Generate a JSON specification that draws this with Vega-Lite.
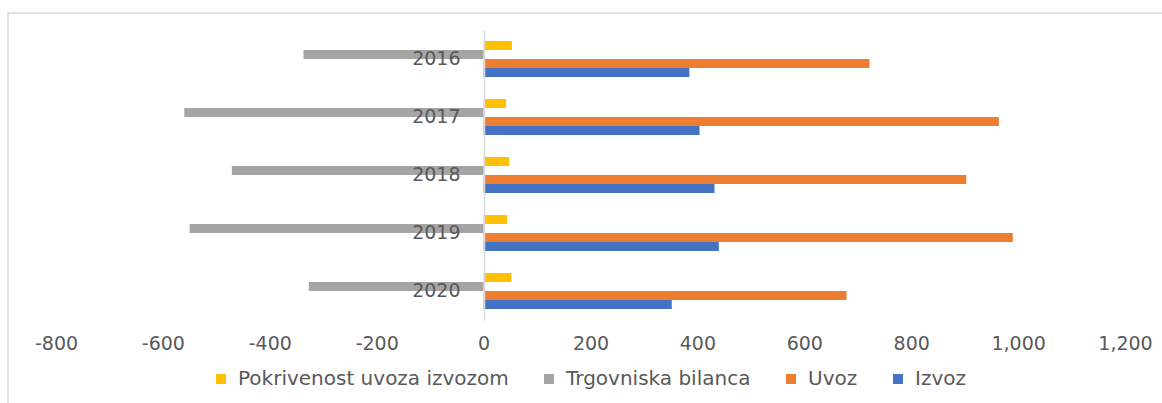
{
  "$schema": "https://vega.github.io/schema/vega-lite/v6.json",
  "autosize": {"type": "none"},
  "padding": {"left": 8, "top": 13, "right": 0, "bottom": 0},
  "width": 1157,
  "height": 393,
  "background": "#ffffff",
  "config": {
    "view": {"stroke": "#D9D9D9", "strokeWidth": 1.5},
    "font": "DejaVu Sans",
    "axis": {"labelFont": "DejaVu Sans", "labelColor": "#595959", "labelFontSize": 19, "grid": false, "ticks": false, "title": null},
    "legend": {"labelFont": "DejaVu Sans", "labelColor": "#595959", "labelFontSize": 20, "labelLimit": 0}
  },
  "data": {
    "values": [
      {"year": "2016", "series": "Pokrivenost uvoza izvozom", "value": 53},
      {"year": "2016", "series": "Trgovniska bilanca", "value": -337},
      {"year": "2016", "series": "Uvoz", "value": 722},
      {"year": "2016", "series": "Izvoz", "value": 385},
      {"year": "2017", "series": "Pokrivenost uvoza izvozom", "value": 42},
      {"year": "2017", "series": "Trgovniska bilanca", "value": -560},
      {"year": "2017", "series": "Uvoz", "value": 964},
      {"year": "2017", "series": "Izvoz", "value": 404},
      {"year": "2018", "series": "Pokrivenost uvoza izvozom", "value": 48},
      {"year": "2018", "series": "Trgovniska bilanca", "value": -471},
      {"year": "2018", "series": "Uvoz", "value": 903},
      {"year": "2018", "series": "Izvoz", "value": 432},
      {"year": "2019", "series": "Pokrivenost uvoza izvozom", "value": 44},
      {"year": "2019", "series": "Trgovniska bilanca", "value": -550},
      {"year": "2019", "series": "Uvoz", "value": 990},
      {"year": "2019", "series": "Izvoz", "value": 440},
      {"year": "2020", "series": "Pokrivenost uvoza izvozom", "value": 52},
      {"year": "2020", "series": "Trgovniska bilanca", "value": -327},
      {"year": "2020", "series": "Uvoz", "value": 679},
      {"year": "2020", "series": "Izvoz", "value": 352}
    ]
  },
  "mark": {"type": "bar"},
  "encoding": {
    "x": {
      "field": "value",
      "type": "quantitative",
      "scale": {"domain": [-889.8, 1274.8], "nice": false, "zero": false},
      "axis": {
        "values": [-800, -600, -400, -200, 0, 200, 400, 600, 800, 1000, 1200],
        "labelExpr": "replace(format(datum.value, ',.0f'), '\u2212', '-')",
        "domain": false,
        "offset": -63,
        "labelBaseline": "middle",
        "labelPadding": 0
      }
    },
    "y": {
      "field": "year",
      "type": "nominal",
      "sort": ["2016", "2017", "2018", "2019", "2020"],
      "scale": {"range": [17, 307], "paddingInner": 0.38, "paddingOuter": 0.19},
      "axis": {
        "offset": -476,
        "domain": true,
        "domainColor": "#D9D9D9",
        "domainWidth": 1.5,
        "labelPadding": 24,
        "zindex": 1
      }
    },
    "yOffset": {
      "field": "series",
      "type": "nominal",
      "sort": ["Pokrivenost uvoza izvozom", "Trgovniska bilanca", "Uvoz", "Izvoz"],
      "scale": {"paddingInner": 0, "paddingOuter": 0}
    },
    "color": {
      "field": "series",
      "type": "nominal",
      "sort": ["Pokrivenost uvoza izvozom", "Trgovniska bilanca", "Uvoz", "Izvoz"],
      "scale": {
        "domain": ["Pokrivenost uvoza izvozom", "Trgovniska bilanca", "Uvoz", "Izvoz"],
        "range": ["#FFC000", "#A5A5A5", "#ED7D31", "#4472C4"]
      },
      "legend": {
        "title": null,
        "orient": "none",
        "direction": "horizontal",
        "legendX": 203,
        "legendY": 356,
        "symbolType": "square",
        "symbolSize": 100,
        "symbolStrokeWidth": 0,
        "labelOffset": 7,
        "columnPadding": 30
      }
    }
  }
}
